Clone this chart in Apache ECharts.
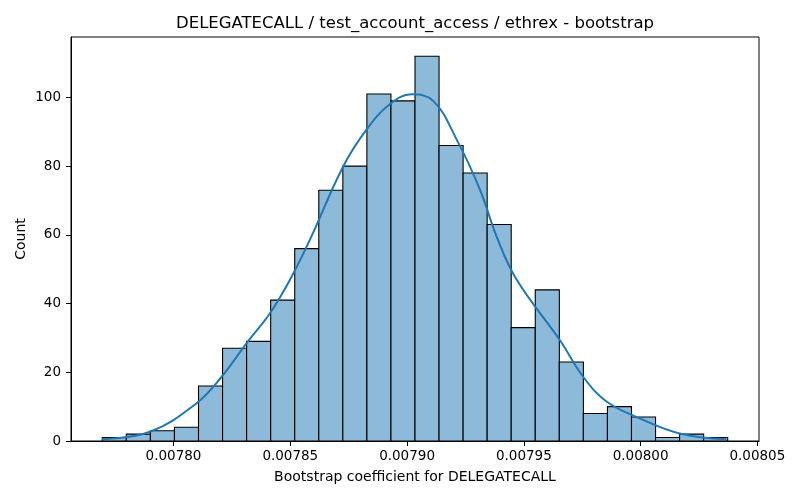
<!DOCTYPE html>
<html>
<head>
<meta charset="utf-8">
<script src="https://cdn.jsdelivr.net/npm/echarts@6/dist/echarts.min.js"></script>
<style>
  html, body { margin: 0; padding: 0; background: #fff; }
  #chart { width: 800px; height: 500px; }
</style>
</head>
<body>
<div id="chart"></div>
<script>
// histogram bins
var binStart = 0.0077695;
var binWidth = 0.0000103;
var counts = [1, 2, 3, 4, 16, 27, 29, 41, 56, 73, 80, 101, 99, 112, 86, 78, 63, 33, 44, 23, 8, 10, 7, 1, 2, 1];

// kde curve, points: [x, count]
var kdeX = [0.0077693, 0.0077899, 0.0078099, 0.0078206, 0.0078313, 0.0078413, 0.0078499,
            0.0078584, 0.0078727, 0.0078827, 0.0078926, 0.0079019, 0.0079112, 0.0079212,
            0.0079312, 0.0079383, 0.0079469, 0.0079654, 0.0079754, 0.0079854, 0.0079996,
            0.0080167, 0.0080367];
var kdeY = [0.5, 2.7, 11, 18.7, 28.5, 37.2, 47,
            58.6, 80, 90.7, 98, 100.9, 99, 87.8,
            73.2, 59.6, 47, 29.4, 18.7, 11.5, 6.6,
            2.2, 0.5];

var meanLine = 0.0079013;

var xTicks = [0.00780, 0.00785, 0.00790, 0.00795, 0.00800, 0.00805];
var yTicks = [0, 20, 40, 60, 80, 100];

var titleText = 'DELEGATECALL / test_account_access / ethrex - bootstrap';
var xName = 'Bootstrap coefficient for DELEGATECALL';
var yName = 'Count';

var font = 'DejaVu Sans';

var barData = counts.map(function (c, i) {
    return [binStart + i * binWidth, binStart + (i + 1) * binWidth, c];
});
var kdeData = kdeX.map(function (x, i) { return [x, kdeY[i]]; });

var chart = echarts.init(document.getElementById('chart'), null, { renderer: 'canvas' });

chart.setOption({
    animation: false,
    backgroundColor: '#ffffff',
    graphic: [{
        type: 'text',
        x: 415, y: 24,
        style: {
            text: titleText,
            font: '16.5px "' + font + '"',
            fill: '#000',
            align: 'center',
            verticalAlign: 'middle'
        }
    }],
    grid: {
        left: 71, right: 41, top: 37, bottom: 59,
        show: true, borderColor: '#000', borderWidth: 1, backgroundColor: 'transparent'
    },
    xAxis: {
        type: 'value',
        min: 0.0077561,
        max: 0.0080507,
        name: xName,
        nameLocation: 'middle',
        nameGap: 29,
        nameMoveOverlap: false,
        nameTextStyle: { fontFamily: font, fontSize: 14, color: '#000' },
        axisLine: { show: true, onZero: false, lineStyle: { color: '#000', width: 1 } },
        axisTick: { show: true, length: 5, lineStyle: { color: '#000' }, customValues: xTicks },
        axisLabel: {
            fontFamily: font, fontSize: 13.5, color: '#000', margin: 8,
            customValues: xTicks,
            formatter: function (v) { return v.toFixed(5); }
        },
        splitLine: { show: false }
    },
    yAxis: {
        type: 'value',
        min: 0,
        max: 117.6,
        name: yName,
        nameLocation: 'middle',
        nameGap: 43,
        nameRotate: 90,
        nameMoveOverlap: false,
        nameTextStyle: { fontFamily: font, fontSize: 14, color: '#000' },
        axisLine: { show: true, lineStyle: { color: '#000', width: 1 } },
        axisTick: { show: true, length: 5, lineStyle: { color: '#000' }, customValues: yTicks },
        axisLabel: {
            fontFamily: font, fontSize: 13.5, color: '#000', margin: 10,
            customValues: yTicks
        },
        splitLine: { show: false }
    },
    series: [{
        type: 'custom',
        data: barData,
        encode: { x: [0, 1], y: 2 },
        renderItem: function (params, api) {
            var p0 = api.coord([api.value(0), api.value(2)]);
            var p1 = api.coord([api.value(1), 0]);
            return {
                type: 'rect',
                shape: { x: p0[0], y: p0[1], width: p1[0] - p0[0], height: p1[1] - p0[1] },
                style: { fill: '#8ebad9', stroke: '#000', lineWidth: 1.1 }
            };
        },
        z: 2
    }, {
        type: 'line',
        data: kdeData,
        smooth: 0.4,
        showSymbol: false,
        lineStyle: { color: '#1f77b4', width: 2 },
        z: 3,
        markLine: {
            silent: true,
            symbol: 'none',
            label: { show: false },
            lineStyle: { color: '#ff0000', type: [4, 2], width: 1 },
            data: [{ xAxis: meanLine }]
        }
    }]
});
</script>
</body>
</html>
